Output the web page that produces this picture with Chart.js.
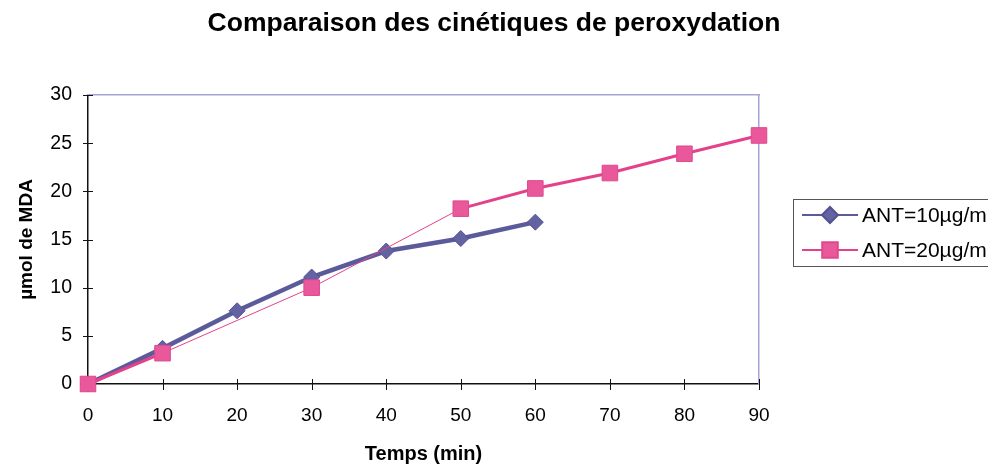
<!DOCTYPE html>
<html>
<head>
<meta charset="utf-8">
<script src="https://cdn.jsdelivr.net/npm/chart.js@4.4.0/dist/chart.umd.min.js"></script>
<style>
  html, body { margin: 0; padding: 0; background: #fff; }
</style>
</head>
<body>
<canvas id="chart" width="988" height="467"></canvas>
<script>
// values
const times = [0, 10, 20, 30, 40, 50, 60, 70, 80, 90];
const ant10 = [0, 3.7, 7.6, 11.1, 13.8, 15.1, 16.8];
const ant20 = [0, 3.2, null, 10.0, null, 18.2, 20.3, 21.9, 23.9, 25.8];
const xTicks = [0, 10, 20, 30, 40, 50, 60, 70, 80, 90];
const yTicks = [0, 5, 10, 15, 20, 25, 30];
const seriesNames = ['ANT=10µg/ml', 'ANT=20µg/ml'];

const toPoints = vals => vals.map((v, i) => ({ x: times[i], y: v }));

Chart.defaults.font.family = "'Liberation Sans', Arial, sans-serif";
Chart.defaults.color = '#000';

// Excel style ticks that cross the axis line
const crossTicks = {
  id: 'crossTicks',
  beforeDatasetsDraw(chart) {
    const { ctx, scales: { x, y } } = chart;
    ctx.save();
    ctx.strokeStyle = '#111';
    ctx.lineWidth = 1;
    ctx.beginPath();
    y.ticks.forEach(t => {
      const py = Math.round(y.getPixelForValue(t.value)) + 0.5;
      ctx.moveTo(y.right - 5, py);
      ctx.lineTo(y.right + 5, py);
    });
    x.ticks.forEach(t => {
      const px = Math.round(x.getPixelForValue(t.value)) + 0.5;
      ctx.moveTo(px, x.top - 5);
      ctx.lineTo(px, x.top + 6);
    });
    ctx.stroke();
    ctx.restore();
  }
};

// boxed legend on the right, partly cut by the page edge like the scan
const sideLegend = {
  id: 'sideLegend',
  afterDraw(chart) {
    const { ctx, chartArea } = chart;
    const bx = chartArea.right + 34, by = 199, bh = 67;
    ctx.save();
    ctx.strokeStyle = '#555';
    ctx.lineWidth = 1;
    ctx.strokeRect(bx + 0.5, by + 0.5, chart.width - bx + 10, bh);
    chart.data.datasets.forEach((ds, i) => {
      const cy = by + 16 + i * 35;
      ctx.strokeStyle = ds.borderColor;
      ctx.lineWidth = 2;
      ctx.beginPath();
      ctx.moveTo(bx + 9, cy);
      ctx.lineTo(bx + 65, cy);
      ctx.stroke();
      ctx.fillStyle = ds.pointBackgroundColor;
      ctx.strokeStyle = ds.pointBorderColor;
      Chart.helpers.drawPoint(ctx, {
        pointStyle: ds.pointStyle, radius: ds.pointRadius, rotation: 0, borderWidth: 1
      }, bx + 37, cy);
      ctx.fillStyle = '#000';
      ctx.font = "21px 'Liberation Sans', Arial, sans-serif";
      ctx.textAlign = 'left';
      ctx.textBaseline = 'middle';
      ctx.fillText(ds.label, bx + 69, cy + 1);
    });
    ctx.restore();
  }
};

new Chart(document.getElementById('chart'), {
  type: 'line',
  data: {
    datasets: [
      {
        label: seriesNames[0],
        data: toPoints(ant10),
        borderColor: '#5b5b9c',
        backgroundColor: '#5b5b9c',
        pointBackgroundColor: '#6363a3',
        pointBorderColor: '#525292',
        borderWidth: 4.5,
        pointStyle: 'rectRot',
        pointRadius: 8,
        pointBorderWidth: 1,
        tension: 0,
        clip: false,
        order: 1
      },
      {
        label: seriesNames[1],
        data: toPoints(ant20),
        borderColor: '#e3428a',
        backgroundColor: '#e3428a',
        pointBackgroundColor: '#e8589b',
        pointBorderColor: '#e0488c',
        borderWidth: 3,
        pointStyle: 'rect',
        pointRadius: 11,
        pointBorderWidth: 1,
        spanGaps: true,
        segment: {
          borderWidth: ctx => (ctx.p0.skip || ctx.p1.skip) ? 1 : undefined
        },
        tension: 0,
        clip: false,
        order: 0
      }
    ]
  },
  options: {
    responsive: false,
    animation: false,
    events: [],
    layout: { padding: 0 },
    plugins: {
      legend: { display: false },
      tooltip: { enabled: false },
      title: {
        display: true,
        text: 'Comparaison des cinétiques de peroxydation',
        font: { size: 26.5, weight: 'bold' },
        color: '#000',
        padding: { top: 8, bottom: 55.2 }
      }
    },
    scales: {
      x: {
        type: 'linear',
        position: 'bottom',
        min: 0,
        max: 90,
        afterBuildTicks: s => { s.ticks = xTicks.map(v => ({ value: v })); },
        afterFit: s => { s.height = 83; },
        grid: { display: false, drawTicks: false },
        border: { display: true, color: '#111', width: 1.5 },
        ticks: { font: { size: 19 }, padding: 20, color: '#000' },
        title: {
          display: true,
          text: 'Temps (min)',
          font: { size: 20, weight: 'bold' },
          padding: { top: 0, bottom: 1 }
        }
      },
      y: {
        type: 'linear',
        position: 'left',
        min: 0,
        max: 30,
        afterBuildTicks: s => { s.ticks = yTicks.map(v => ({ value: v })); },
        afterFit: s => { s.width = 88; },
        grid: { display: false, drawTicks: false },
        border: { display: true, color: '#111', width: 1.5 },
        ticks: { font: { size: 19.5 }, padding: 16, color: '#000' },
        title: {
          display: true,
          text: 'µmol de MDA',
          font: { size: 19, weight: 'bold' },
          padding: { top: 15, bottom: 0 }
        }
      },
      // frame lines of the plot area (top and right) in lavender
      xTop: {
        type: 'linear',
        position: 'top',
        afterFit: s => { s.height = 0; },
        grid: { display: false, drawTicks: false },
        ticks: { display: false },
        border: { display: true, color: '#a4a4d4', width: 1.5 }
      },
      yRight: {
        type: 'linear',
        position: 'right',
        afterFit: s => { s.width = 229; },
        grid: { display: false, drawTicks: false },
        ticks: { display: false },
        border: { display: true, color: '#a4a4d4', width: 1.5 }
      }
    }
  },
  plugins: [crossTicks, sideLegend]
});
</script>
</body>
</html>
